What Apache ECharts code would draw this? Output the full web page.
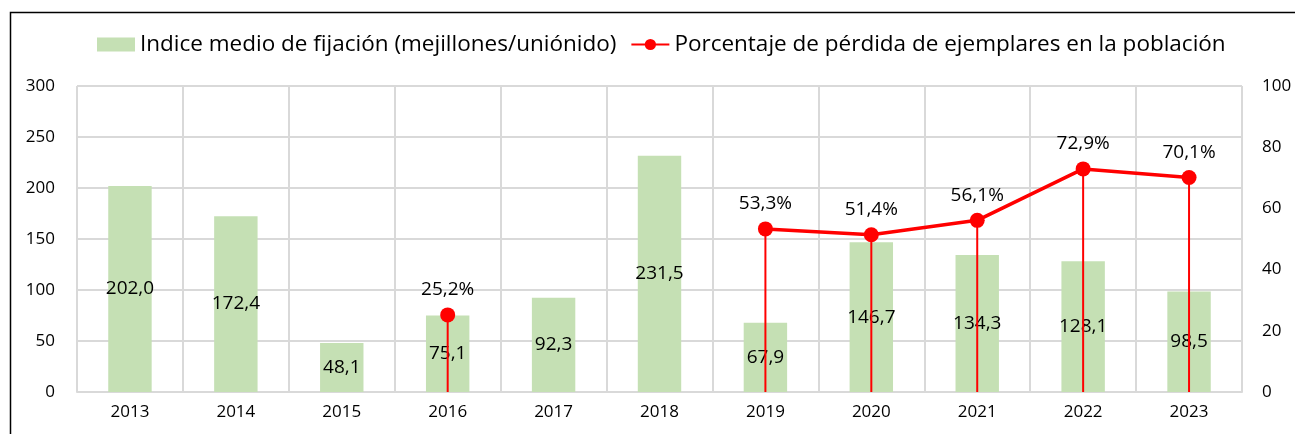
<!DOCTYPE html>
<html>
<head>
<meta charset="utf-8">
<script src="https://cdn.jsdelivr.net/npm/echarts@6/dist/echarts.min.js"></script>
<style>
  html, body { margin: 0; padding: 0; background: #fff; }
  #chart { width: 1295px; height: 434px; }
</style>
</head>
<body>
<div id="chart"></div>
<script>
  // datos
  var years = ['2013', '2014', '2015', '2016', '2017', '2018', '2019', '2020', '2021', '2022', '2023'];
  var fijacion = [202.0, 172.4, 48.1, 75.1, 92.3, 231.5, 67.9, 146.7, 134.3, 128.1, 98.5];
  var perdida = [null, null, null, 25.2, null, null, 53.3, 51.4, 56.1, 72.9, 70.1];
  var leftTicks = [0, 50, 100, 150, 200, 250, 300];
  var rightTicks = [0, 20, 40, 60, 80, 100];

  var legendNames = ['Indice medio de fijación (mejillones/uniónido)', 'Porcentaje de pérdida de ejemplares en la población'];
  var fnt = 'Open Sans';
  var fmt = function (v) { return v.toFixed(1).replace('.', ','); };

  var chart = echarts.init(document.getElementById('chart'));
  chart.setOption({
    animation: false,
    textStyle: { fontFamily: fnt },
    graphic: [{
      type: 'rect',
      shape: { x: 10.5, y: 12.5, width: 1400, height: 500 },
      style: { fill: 'none', stroke: '#000', lineWidth: 1.5 },
      silent: true
    }],
    legend: {
      top: 28,
      left: 92,
      itemGap: 14,
      textStyle: { fontSize: 22.5, color: '#000', fontFamily: fnt },
      data: [
        { name: legendNames[0], icon: 'rect', itemStyle: { color: '#C5E0B4' } },
        { name: legendNames[1] }
      ],
      itemWidth: 38,
      itemHeight: 14
    },
    grid: { left: 77, right: 53, top: 86, bottom: 42 },
    xAxis: {
      type: 'category',
      data: years,
      boundaryGap: true,
      axisLine: { lineStyle: { color: '#D9D9D9', width: 2 } },
      axisTick: { show: false },
      splitLine: { show: true, lineStyle: { color: '#D9D9D9', width: 2 } },
      axisLabel: { color: '#000', fontSize: 17, margin: 12 }
    },
    yAxis: [{
      type: 'value',
      min: leftTicks[0],
      max: leftTicks[leftTicks.length - 1],
      interval: 50,
      axisLine: { show: false },
      axisTick: { show: false },
      splitLine: { lineStyle: { color: '#D9D9D9', width: 2 } },
      axisLabel: { color: '#000', fontSize: 17, margin: 22 }
    }, {
      type: 'value',
      min: rightTicks[0],
      max: rightTicks[rightTicks.length - 1],
      interval: 20,
      axisLine: { show: false },
      axisTick: { show: false },
      splitLine: { show: false },
      axisLabel: { color: '#000', fontSize: 17, margin: 20 }
    }],
    series: [{
      name: legendNames[0],
      type: 'bar',
      yAxisIndex: 0,
      data: fijacion,
      barWidth: '41%',
      itemStyle: { color: '#C5E0B4' },
      label: {
        show: true,
        position: 'inside',
        color: '#000',
        fontSize: 19,
        fontFamily: fnt,
        formatter: function (p) { return fmt(p.value); }
      },
      z: 1
    }, {
      name: 'drop',
      type: 'custom',
      yAxisIndex: 1,
      data: perdida.map(function (v, i) { return [i, v]; }),
      renderItem: function (params, api) {
        var v = api.value(1);
        if (v == null || isNaN(v)) return null;
        var top = api.coord([api.value(0), v]);
        var bot = api.coord([api.value(0), 0]);
        return {
          type: 'line',
          shape: { x1: top[0], y1: top[1], x2: bot[0], y2: bot[1] },
          style: { stroke: '#FF0000', lineWidth: 2 }
        };
      },
      silent: true,
      z: 2
    }, {
      name: legendNames[1],
      type: 'line',
      yAxisIndex: 1,
      data: perdida,
      connectNulls: false,
      color: '#FF0000',
      lineStyle: { color: '#FF0000', width: 3.5 },
      itemStyle: { color: '#FF0000' },
      symbol: 'circle',
      symbolSize: 15,
      label: {
        show: true,
        position: 'top',
        distance: 8,
        color: '#000',
        fontSize: 19,
        fontFamily: fnt,
        formatter: function (p) { return fmt(p.value) + '%'; }
      },
      z: 3
    }]
  });
</script>
</body>
</html>
